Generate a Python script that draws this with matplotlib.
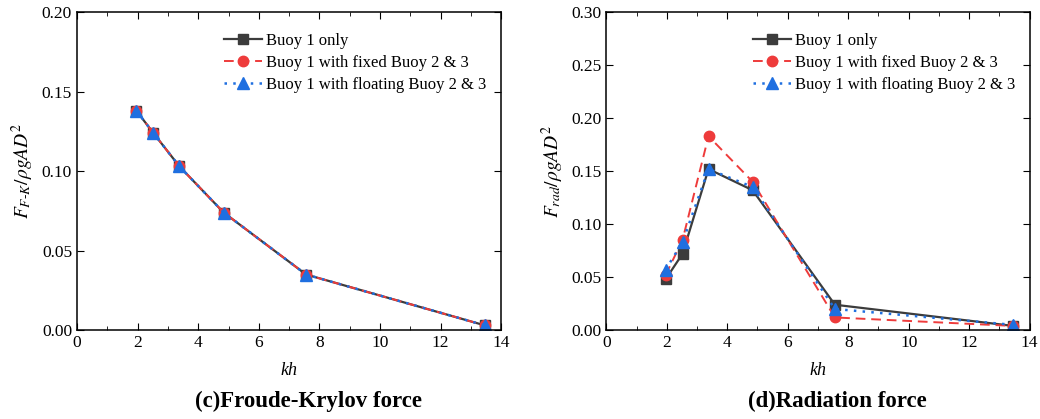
import matplotlib.pyplot as plt
from matplotlib.ticker import MultipleLocator

plt.rcParams['font.family'] = ['Liberation Serif', 'DejaVu Serif']
plt.rcParams['mathtext.fontset'] = 'stix'

# kh values
kh = [1.96, 2.52, 3.38, 4.84, 7.56, 13.46]

# (c) Froude-Krylov force
fk_only = [0.138, 0.124, 0.103, 0.074, 0.035, 0.003]
fk_fixed = [0.138, 0.124, 0.103, 0.074, 0.035, 0.003]
fk_floating = [0.138, 0.124, 0.103, 0.074, 0.035, 0.003]

# (d) Radiation force
rad_only = [0.048, 0.072, 0.152, 0.132, 0.024, 0.004]
rad_fixed = [0.052, 0.085, 0.183, 0.140, 0.012, 0.004]
rad_floating = [0.057, 0.083, 0.152, 0.135, 0.020, 0.005]

labels = ['Buoy 1 only', 'Buoy 1 with fixed Buoy 2 & 3', 'Buoy 1 with floating Buoy 2 & 3']
captions = ['(c)Froude-Krylov force', '(d)Radiation force']
ylabels = [r'$F_{F\text{-}K}/\rho gAD^2$', r'$F_{rad}/\rho gAD^2$']

fig = plt.figure(figsize=(10.4, 4.19), dpi=100)
ax1 = fig.add_axes([0.074, 0.212, 0.408, 0.759])
ax2 = fig.add_axes([0.583, 0.212, 0.407, 0.759])

series = [(fk_only, fk_fixed, fk_floating), (rad_only, rad_fixed, rad_floating)]
ymaxes = [0.20, 0.30]

for ax, (s1, s2, s3), ymax, ylab, cap in zip([ax1, ax2], series, ymaxes, ylabels, captions):
    ax.plot(kh, s1, color='#3c3c3c', linestyle='-', lw=1.6, marker='s', ms=7.5, label=labels[0])
    ax.plot(kh, s2, color='#ee3b3b', linestyle=(0, (5, 3)), lw=1.4, marker='o', ms=7.5, label=labels[1])
    ax.plot(kh, s3, color='#1f6fe0', linestyle=(0, (1, 2.5)), lw=1.8, marker='^', ms=8, label=labels[2])
    ax.set_xlim(0, 14)
    ax.set_ylim(0, ymax)
    ax.xaxis.set_major_locator(MultipleLocator(2))
    ax.xaxis.set_minor_locator(MultipleLocator(1))
    ax.yaxis.set_major_locator(MultipleLocator(0.05))
    ax.yaxis.set_major_formatter(plt.FormatStrFormatter('%.2f'))
    ax.tick_params(which='both', direction='in', top=True, right=True, labelsize=12.5)
    ax.tick_params(which='major', length=5)
    ax.tick_params(which='minor', length=3)
    for sp in ax.spines.values():
        sp.set_linewidth(1.1)
    ax.set_xlabel('kh', fontsize=13, style='italic', labelpad=8)
    ax.set_ylabel(ylab, fontsize=14, labelpad=4)
    ax.legend(loc='upper left', bbox_to_anchor=(0.33, 0.955), frameon=False, fontsize=12,
              handlelength=2.3, handletextpad=0.25, labelspacing=0.35, borderaxespad=0)
    ax.text(0.545, -0.224, cap, transform=ax.transAxes, ha='center', va='center',
            fontsize=16.5, fontweight='bold')

fig.savefig('out.png', dpi=100)
